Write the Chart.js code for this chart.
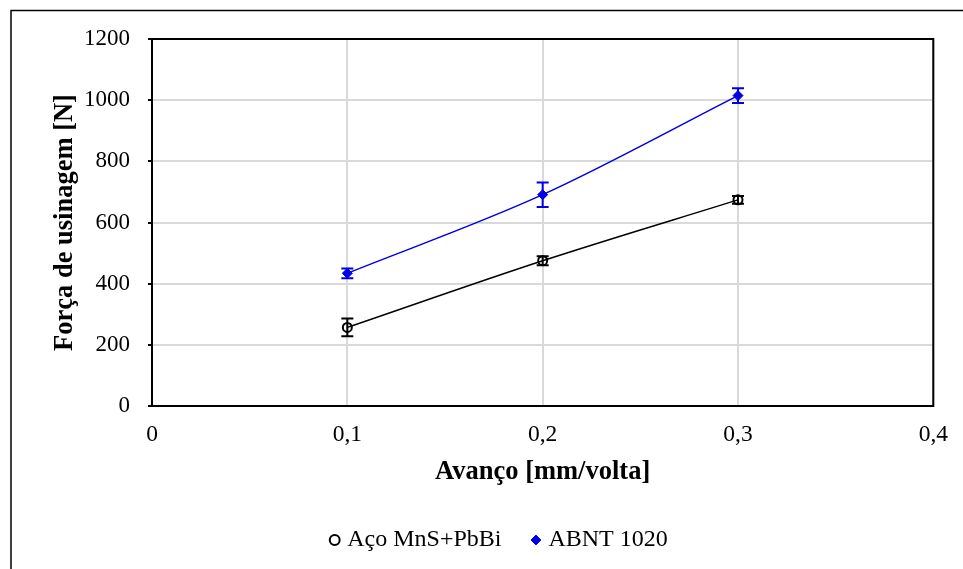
<!DOCTYPE html>
<html>
<head>
<meta charset="utf-8">
<script src="https://cdn.jsdelivr.net/npm/chart.js@4"></script>
<style>
  html, body { margin: 0; padding: 0; background: #fff; overflow: hidden; }
  #wrap { position: relative; width: 963px; height: 569px; }
</style>
</head>
<body>
<div id="wrap"><canvas id="c" width="963" height="569"></canvas></div>
<script>
// ---- data ----
const avanco = [0.1, 0.2, 0.3];
const acoMnS = [257, 475, 674];
const acoMnSErr = [29, 15, 13];
const abnt1020 = [434, 691, 1015];
const abnt1020Err = [16, 40, 24];
const seriesNames = ['Aço MnS+PbBi', 'ABNT 1020'];
const xTitle = 'Avanço [mm/volta]';
const yTitle = 'Força de usinagem [N]';

const FONT = "'Liberation Serif', 'Times New Roman', serif";
const BLUE = '#0000E6';

const toPts = (xs, ys) => xs.map((x, i) => ({ x: x, y: ys[i] }));

const frameAndErrors = {
  id: 'frameAndErrors',
  afterLayout(chart) {
    const lg = chart.legend;
    if (lg) { lg.left += 34; lg.right += 34; }
  },
  beforeDraw(chart) {
    const ctx = chart.ctx;
    ctx.save();
    ctx.fillStyle = '#fff';
    ctx.fillRect(0, 0, chart.width, chart.height);
    ctx.strokeStyle = '#000';
    ctx.lineWidth = 1.5;
    ctx.beginPath();
    ctx.moveTo(11, chart.height + 5);
    ctx.lineTo(11, 10.5);
    ctx.lineTo(chart.width + 5, 10.5);
    ctx.stroke();
    ctx.restore();
  },
  beforeDatasetsDraw(chart) {
    const { ctx, chartArea: a } = chart;
    ctx.save();
    ctx.strokeStyle = '#000';
    ctx.lineWidth = 2;
    ctx.strokeRect(a.left, a.top, a.right - a.left, a.bottom - a.top);
    ctx.restore();
  },
  afterDatasetsDraw(chart) {
    const ctx = chart.ctx;
    const xs = chart.scales.x, ys = chart.scales.y;
    chart.data.datasets.forEach((ds) => {
      if (!ds.errors) return;
      ctx.save();
      ctx.strokeStyle = ds.borderColor;
      ctx.lineWidth = 2;
      ds.data.forEach((p, i) => {
        const e = ds.errors[i];
        const px = xs.getPixelForValue(p.x);
        const y1 = ys.getPixelForValue(p.y + e);
        const y2 = ys.getPixelForValue(p.y - e);
        ctx.beginPath();
        ctx.moveTo(px, y1); ctx.lineTo(px, y2);
        ctx.moveTo(px - 6, y1); ctx.lineTo(px + 6, y1);
        ctx.moveTo(px - 6, y2); ctx.lineTo(px + 6, y2);
        ctx.stroke();
      });
      ctx.restore();
    });
  }
};

new Chart(document.getElementById('c'), {
  type: 'line',
  data: {
    datasets: [
      {
        label: seriesNames[0],
        data: toPts(avanco, acoMnS),
        errors: acoMnSErr,
        borderColor: '#000',
        backgroundColor: 'rgba(0,0,0,0)',
        borderWidth: 1.5,
        pointStyle: 'circle',
        pointRadius: 4.5,
        pointBorderWidth: 2,
        pointBorderColor: '#000',
        pointBackgroundColor: 'rgba(0,0,0,0)',
        cubicInterpolationMode: 'monotone',
        fill: false
      },
      {
        label: seriesNames[1],
        data: toPts(avanco, abnt1020),
        errors: abnt1020Err,
        borderColor: BLUE,
        backgroundColor: BLUE,
        borderWidth: 1.5,
        pointStyle: 'rectRot',
        pointRadius: 5,
        pointBorderWidth: 1,
        pointBorderColor: BLUE,
        pointBackgroundColor: BLUE,
        cubicInterpolationMode: 'monotone',
        fill: false
      }
    ]
  },
  options: {
    responsive: false,
    animation: false,
    events: [],
    layout: { padding: { top: 39, right: 29, left: 0, bottom: 7 } },
    plugins: {
      tooltip: { enabled: false },
      legend: {
        position: 'bottom',
        labels: {
          usePointStyle: true,
          boxWidth: 1,
          boxHeight: 7,
          padding: 34,
          color: '#000',
          font: { family: FONT, size: 24 },
          generateLabels(chart) {
            return chart.data.datasets.map((ds, i) => ({
              text: ds.label,
              fillStyle: i === 0 ? '#fff' : BLUE,
              strokeStyle: i === 0 ? '#000' : BLUE,
              lineWidth: i === 0 ? 2 : 1,
              pointStyle: ds.pointStyle,
              fontColor: '#000',
              datasetIndex: i,
              hidden: false
            }));
          }
        }
      }
    },
    scales: {
      x: {
        type: 'linear',
        min: 0, max: 0.4,
        afterFit(s) { s.height = 88; },
        ticks: {
          stepSize: 0.1,
          padding: 15,
          color: '#000',
          font: { family: FONT, size: 23.5 },
          callback: (v) => (Math.round(v * 10) / 10).toString().replace('.', ',')
        },
        grid: { color: '#d9d9d9', lineWidth: 2, drawTicks: false },
        border: { color: '#000', width: 2 },
        title: {
          display: true, text: xTitle, color: '#000',
          font: { family: FONT, size: 26.5, weight: 'bold' },
          padding: { top: 0, bottom: 6 }
        }
      },
      y: {
        type: 'linear',
        min: 0, max: 1200,
        afterFit(s) { s.width = 152; },
        ticks: {
          stepSize: 200,
          padding: 18,
          color: '#000',
          font: { family: FONT, size: 23 },
          callback: (v) => String(v)
        },
        grid: { color: '#d9d9d9', lineWidth: 2, tickLength: 4, tickColor: '#000', tickWidth: 2 },
        border: { color: '#000', width: 2 },
        title: {
          display: true, text: yTitle, color: '#000',
          font: { family: FONT, size: 26.5, weight: 'bold' },
          padding: { top: 49, bottom: 0 }
        }
      }
    }
  },
  plugins: [frameAndErrors]
});
</script>
</body>
</html>
